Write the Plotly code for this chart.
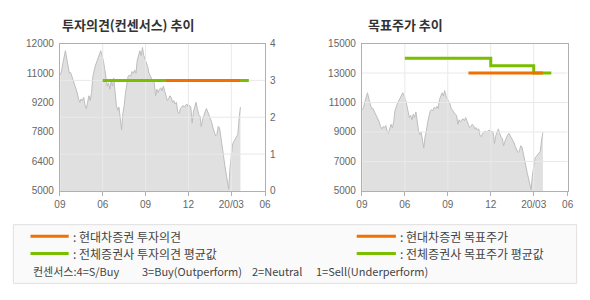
import plotly.graph_objects as go

# ---- data ----
price = [
    10510, 10670, 11050, 11430, 11660, 11280, 10900, 10590, 10620, 10440,
    10210, 9980, 9830, 9670, 9370, 9210, 9370, 9290, 9440, 9060,
    8910, 9290, 9520, 9290, 9670, 10440, 10740, 10970, 11130, 11280,
    11510, 11660, 11430, 11200, 10820, 10360, 9980, 10130, 9830, 10210,
    9980, 10360, 9670, 9060, 8830, 8980, 8450, 7910, 8680, 9060,
    9670, 10130, 10440, 10510, 10440, 10670, 10590, 10740, 10590, 11200,
    11510, 11660, 11430, 11810, 11430, 11280, 11130, 10900, 10590, 10440,
    10290,
    10210, 10130, 9520, 9830, 9670, 9830, 9900, 9750, 9980, 9750,
    9520, 9290, 9370, 9520, 9440, 9210, 9290, 9130, 9210, 8750,
    8680, 8910, 8980, 9060, 8980, 9060, 9130, 8980, 9060, 8980,
    8220, 8750, 9060, 9210, 8910, 8630, 8570, 8060, 8370, 8630,
    8780, 8910, 8750, 8600, 8450, 8260, 7990, 7840, 7610, 7680,
    8060, 7990, 7610, 7220, 6690, 6230, 5770, 5310, 5080, 6070,
    6610, 7220, 7350, 7450, 7530, 7680, 8450, 8980,
]
price_x0 = 0.0076
price_dx = 0.03048

x_ticks = [0, 1, 2, 3, 4, 4.79]
x_labels = ["09", "06", "09", "12", "20/03", "06"]
x_range = [0, 4.79]
x_grid = [1, 2, 3, 4]

left_ticks = [12000, 10600, 9200, 7800, 6400, 5000]
left_labels = ["12000", "11000", "9200", "7800", "6400", "5000"]
left_range = [5000, 12000]
opinion_ticks = [0, 1, 2, 3, 4]
opinion_grid = [1, 2, 3]

right_ticks = [5000, 7000, 9000, 11000, 13000, 15000]
right_labels = ["5000", "7000", "9000", "11000", "13000", "15000"]
right_range = [5000, 15000]
right_grid = [7000, 9000, 11000, 13000]

# investment opinion (consensus)
all_op_x = [1.0, 4.41]
all_op_y = [3, 3]
hd_op_x = [2.48, 4.21]
hd_op_y = [3, 3]

# target price
all_tp_x = [1.0, 3.0, 4.0, 4.41]
all_tp_y = [14000, 13500, 13000, 13000]
hd_tp_x = [2.48, 4.21]
hd_tp_y = [13000, 13000]

ORANGE = "#f07000"
GREEN = "#7abe00"
FILL = "#e0e0e0"
PLINE = "#bdbdbd"
GRID = "#e9e9e9"
FRAME = "#b0b0b0"
TICKC = "#666666"
W, H = 590, 300

def grid_xy(xv, yv, xr, yr):
    xs, ys = [], []
    for v in xv:
        xs += [v, v, None]
        ys += [yr[0], yr[1], None]
    for v in yv:
        xs += [xr[0], xr[1], None]
        ys += [v, v, None]
    return xs, ys

fig = go.Figure()

# ---- left chart ----
fig.add_trace(go.Scatter(x0=price_x0, dx=price_dx, y=price, mode="lines",
                         line=dict(color=PLINE, width=1), fill="tozeroy",
                         fillcolor=FILL, xaxis="x", yaxis="y", hoverinfo="skip"))
gx, gy = grid_xy(x_grid, opinion_grid, x_range, [0, 4])
fig.add_trace(go.Scatter(x=gx, y=gy, mode="lines", line=dict(color=GRID, width=1),
                         xaxis="x", yaxis="y2", hoverinfo="skip"))
fig.add_trace(go.Scatter(x=all_op_x, y=all_op_y, mode="lines",
                         line=dict(color=GREEN, width=3), xaxis="x", yaxis="y2"))
fig.add_trace(go.Scatter(x=hd_op_x, y=hd_op_y, mode="lines",
                         line=dict(color=ORANGE, width=3), xaxis="x", yaxis="y2"))

# ---- right chart ----
fig.add_trace(go.Scatter(x0=price_x0, dx=price_dx, y=price, mode="lines",
                         line=dict(color=PLINE, width=1), fill="tozeroy",
                         fillcolor=FILL, xaxis="x2", yaxis="y3", hoverinfo="skip"))
gx2, gy2 = grid_xy(x_grid, right_grid, x_range, right_range)
fig.add_trace(go.Scatter(x=gx2, y=gy2, mode="lines", line=dict(color=GRID, width=1),
                         xaxis="x2", yaxis="y3", hoverinfo="skip"))
fig.add_trace(go.Scatter(x=all_tp_x, y=all_tp_y, mode="lines", line_shape="hv",
                         line=dict(color=GREEN, width=3), xaxis="x2", yaxis="y3"))
fig.add_trace(go.Scatter(x=hd_tp_x, y=hd_tp_y, mode="lines",
                         line=dict(color=ORANGE, width=3), xaxis="x2", yaxis="y3"))

tickfont = dict(family="Liberation Sans", size=10, color=TICKC)
ydom = [1 - 193 / H, 1 - 40 / H]
xcommon = dict(range=x_range, tickvals=x_ticks, ticktext=x_labels, showgrid=False,
               zeroline=False, showline=True, mirror=True, linecolor=FRAME, linewidth=1,
               ticks="outside", ticklen=4, tickcolor=FRAME, tickfont=tickfont)

fig.update_layout(
    width=W, height=H, margin=dict(l=0, r=0, t=0, b=0),
    paper_bgcolor="white", plot_bgcolor="white", showlegend=False,
    xaxis=dict(domain=[55 / W, 264.5 / W], anchor="y", **xcommon),
    yaxis=dict(domain=ydom, range=left_range, tickvals=left_ticks, ticktext=left_labels,
               showgrid=False, zeroline=False, showline=True, mirror=True,
               linecolor=FRAME, linewidth=1, ticks="", tickfont=tickfont,
               ticklabelstandoff=3),
    yaxis2=dict(overlaying="y", side="right", anchor="x", range=[0, 4],
                tickvals=opinion_ticks, showgrid=False, zeroline=False,
                showline=False, ticks="", tickfont=tickfont, ticklabelstandoff=4),
    xaxis2=dict(domain=[363.3 / W, 573.3 / W], anchor="y3", **xcommon),
    yaxis3=dict(domain=ydom, anchor="x2", range=right_range, tickvals=right_ticks,
                ticktext=right_labels,
                showgrid=False, zeroline=False, showline=True, mirror=True,
                linecolor=FRAME, linewidth=1, ticks="", tickfont=tickfont,
                ticklabelstandoff=3),
)

KFONT = "Noto Sans CJK KR"
def px(x):
    return x / W
def py(y):
    return 1 - y / H

annotations = [
    dict(text="<b>투자의견(컨센서스) 추이</b>", x=px(55), y=py(20)),
    dict(text="<b>목표주가 추이</b>", x=px(367), y=py(20)),
]
for a in annotations:
    a.update(xref="paper", yref="paper", xanchor="left", yanchor="middle",
             showarrow=False, font=dict(family=KFONT, size=13, color="#333333"))

legend_rows = [
    (66, 240, ": 현대차증권 투자의견", 12),
    (66, 258, ": 전체증권사 투자의견 평균값", 12),
    (400, 240, ": 현대차증권 목표주가", 12),
    (400, 258, ": 전체증권사 목표주가 평균값", 12),
    (26, 276, "컨센서스:4=S/Buy", 11),
    (137, 276, "3=Buy(Outperform)", 11),
    (249, 276, "2=Neutral", 11),
    (314, 276, "1=Sell(Underperform)", 11),
]
for x, y, t, s in legend_rows:
    annotations.append(dict(text=t, x=px(x), y=py(y), xref="paper", yref="paper",
                            xanchor="left", yanchor="middle", showarrow=False,
                            font=dict(family=KFONT, size=s, color="#444444")))

shapes = [dict(type="rect", xref="paper", yref="paper", x0=px(7.5), x1=px(582.5),
               y0=py(289), y1=py(228), fillcolor="#fafafa",
               line=dict(color="#e0e0e0", width=1), layer="below")]
for x0, x1, y, c in [(25, 64, 240, ORANGE), (25, 64, 258, GREEN),
                     (358, 398, 240, ORANGE), (358, 398, 258, GREEN)]:
    shapes.append(dict(type="line", xref="paper", yref="paper", x0=px(x0), x1=px(x1),
                       y0=py(y), y1=py(y), line=dict(color=c, width=3)))

fig.update_layout(annotations=annotations, shapes=shapes)
fig.write_html("out.html")
